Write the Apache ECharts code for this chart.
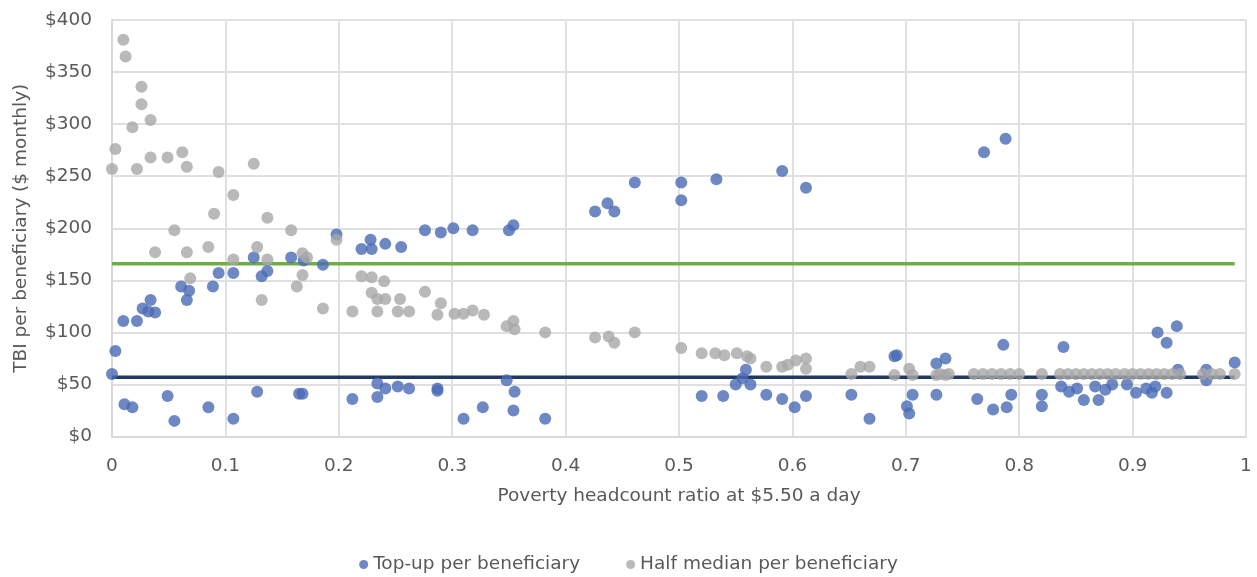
<!DOCTYPE html>
<html>
<head>
<meta charset="utf-8">
<script src="https://cdn.jsdelivr.net/npm/echarts@6/dist/echarts.min.js"></script>
<style>
html,body{margin:0;padding:0;background:#fff;}
#chart{width:1257px;height:577px;}
</style>
</head>
<body>
<div id="chart"></div>
<script>
var seriesNames = ['Top-up per beneficiary', 'Half median per beneficiary'];
var xAxisTitle = 'Poverty headcount ratio at $5.50 a day';
var yAxisTitle = 'TBI per beneficiary ($ monthly)';
var xTickLabels = ['0', '0.1', '0.2', '0.3', '0.4', '0.5', '0.6', '0.7', '0.8', '0.9', '1'];
var yTickLabels = ['$0', '$50', '$100', '$150', '$200', '$250', '$300', '$350', '$400'];

var topUp = [
  [0.0,60],[0.003,82],[0.01,111],[0.022,111],[0.027,123],[0.032,120],[0.034,131],[0.038,119],
  [0.061,144],[0.068,140],[0.066,131],[0.089,144],[0.094,157],[0.107,157],[0.125,172],[0.132,154],
  [0.137,159],[0.158,172],[0.169,169],[0.186,165],[0.198,194],
  [0.011,31],[0.018,28],[0.049,39],[0.055,15],[0.085,28],[0.107,17],[0.128,43],[0.165,41],[0.168,41],[0.212,36],
  [0.22,180],[0.228,189],[0.229,180],[0.241,185],[0.255,182],[0.276,198],[0.29,196],[0.301,200],
  [0.318,198],[0.35,198],[0.354,203],[0.426,216],[0.437,224],[0.443,216],[0.461,244],
  [0.234,38],[0.234,51],[0.241,46],[0.252,48],[0.262,46],[0.287,46],[0.287,44],[0.31,17],[0.327,28],
  [0.348,54],[0.355,43],[0.354,25],[0.382,17],
  [0.502,244],[0.502,227],[0.533,247],[0.591,255],[0.612,239],
  [0.52,39],[0.539,39],[0.55,50],[0.559,64],[0.563,50],[0.556,56],[0.577,40],[0.591,36],[0.602,28],
  [0.612,39],[0.652,40],[0.668,17],[0.69,77],[0.692,78],[0.701,29],[0.703,22],[0.706,40],[0.727,40],
  [0.727,70],[0.735,75],
  [0.769,273],[0.788,286],
  [0.786,88],[0.839,86],[0.922,100],[0.93,90],[0.939,106],[0.99,71],[0.94,64],[0.965,64],[0.965,54],
  [0.763,36],[0.777,26],[0.789,28],[0.793,40],[0.82,40],[0.82,29],[0.837,48],[0.844,43],[0.851,46],
  [0.857,35],[0.867,48],[0.87,35],[0.876,45],[0.882,50],[0.895,50],[0.903,42],[0.912,46],[0.917,42],
  [0.92,48],[0.93,42]
];

var halfMedian = [
  [0.0,257],[0.003,276],[0.01,381],[0.012,365],[0.018,297],[0.022,257],[0.026,336],[0.026,319],
  [0.034,304],[0.034,268],[0.049,268],[0.062,273],[0.066,259],[0.094,254],[0.125,262],[0.107,232],
  [0.09,214],[0.137,210],
  [0.055,198],[0.158,198],[0.038,177],[0.066,177],[0.085,182],[0.128,182],[0.107,170],[0.137,170],
  [0.168,176],[0.172,172],[0.198,189],[0.069,152],[0.168,155],[0.163,144],[0.132,131],[0.186,123],[0.212,120],
  [0.22,154],[0.229,153],[0.24,149],[0.229,138],[0.234,132],[0.241,132],[0.234,120],[0.254,132],
  [0.252,120],[0.262,120],[0.276,139],[0.29,128],[0.287,117],[0.302,118],[0.31,118],[0.318,121],
  [0.328,117],[0.348,106],[0.354,111],[0.355,103],[0.382,100],[0.426,95],[0.438,96],[0.443,90],[0.461,100],
  [0.502,85],[0.52,80],[0.532,80],[0.54,78],[0.551,80],[0.56,77],[0.563,75],[0.577,67],[0.591,67],
  [0.596,69],[0.603,73],[0.612,75],[0.612,65],[0.652,60],[0.66,67],[0.668,67],[0.69,59],[0.703,65],
  [0.706,59],[0.727,59],[0.735,59],
  [0.73,60],[0.738,60],[0.76,60],[0.768,60],[0.776,60],[0.784,60],[0.792,60],[0.8,60],[0.82,60],
  [0.836,60],[0.843,60],[0.85,60],[0.857,60],[0.864,60],[0.871,60],[0.878,60],[0.885,60],[0.893,60],
  [0.9,60],[0.907,60],[0.914,60],[0.921,60],[0.928,60],[0.935,60],[0.942,60],[0.962,60],[0.97,60],
  [0.977,60],[0.99,60]
];

var topUpAverage = [[0, 57], [0.99, 57]];
var halfMedianAverage = [[0, 166], [0.99, 166]];

var textColor = '#595959';
var font = '"DejaVu Sans"';
var fs = 18.5;

var chart = echarts.init(document.getElementById('chart'), null, {renderer: 'canvas'});
chart.setOption({
  animation: false,
  backgroundColor: '#ffffff',
  textStyle: {fontFamily: font, color: textColor},
  grid: {left: 112, right: 11, top: 20, bottom: 140.5, containLabel: false},
  legend: {
    data: seriesNames,
    bottom: 3,
    padding: 0,
    left: 'center',
    icon: 'circle',
    itemWidth: 9,
    itemHeight: 9,
    itemGap: 46,
    textStyle: {fontSize: fs, color: textColor, fontFamily: font}
  },
  xAxis: {
    type: 'value',
    min: 0,
    max: 1,
    interval: 0.1,
    name: xAxisTitle,
    nameLocation: 'middle',
    nameGap: 50,
    nameTextStyle: {fontSize: fs, color: textColor, fontFamily: font},
    axisLine: {show: true, lineStyle: {color: '#d9d9d9', width: 2}},
    axisTick: {show: false},
    axisLabel: {
      fontSize: fs, color: textColor, margin: 20, fontFamily: font,
      formatter: function (v) { return xTickLabels[Math.round(v * 10)]; }
    },
    splitLine: {show: true, lineStyle: {color: '#e0e0e0', width: 2}}
  },
  yAxis: {
    type: 'value',
    min: 0,
    max: 400,
    interval: 50,
    name: yAxisTitle,
    nameLocation: 'middle',
    nameGap: 81,
    nameTextStyle: {fontSize: fs, color: textColor, fontFamily: font},
    axisLine: {show: true, lineStyle: {color: '#d9d9d9', width: 2}},
    axisTick: {show: false},
    axisLabel: {
      fontSize: fs, color: textColor, margin: 20, fontFamily: font,
      formatter: function (v) { return yTickLabels[Math.round(v / 50)]; }
    },
    splitLine: {show: true, lineStyle: {color: '#e0e0e0', width: 2}}
  },
  series: [
    {
      name: 'Half median average',
      type: 'line',
      data: halfMedianAverage,
      symbol: 'none',
      lineStyle: {color: '#70ad47', width: 3.5},
      z: 1
    },
    {
      name: 'Top-up average',
      type: 'line',
      data: topUpAverage,
      symbol: 'none',
      lineStyle: {color: '#203864', width: 3.5},
      z: 1
    },
    {
      name: seriesNames[0],
      type: 'scatter',
      data: topUp,
      symbol: 'circle',
      symbolSize: 12,
      itemStyle: {color: '#4a6ab5'},
      z: 2
    },
    {
      name: seriesNames[1],
      type: 'scatter',
      data: halfMedian,
      symbol: 'circle',
      symbolSize: 12,
      itemStyle: {color: '#a8a8a8'},
      z: 3
    }
  ]
});
</script>
</body>
</html>
